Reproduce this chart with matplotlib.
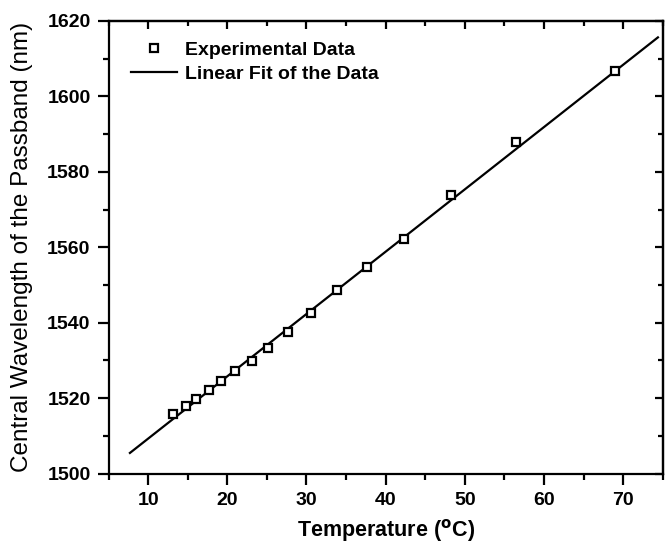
import matplotlib
matplotlib.use("Agg")
import matplotlib.pyplot as plt
from matplotlib.ticker import MultipleLocator

# Measured central wavelength of the passband vs temperature
temperature = [13.2, 14.8, 16.1, 17.7, 19.2, 21.0, 23.1, 25.2, 27.7, 30.6,
               33.9, 37.6, 42.3, 48.3, 56.5, 69.0]
wavelength = [1515.7, 1517.9, 1519.9, 1522.3, 1524.5, 1527.2, 1529.9, 1533.2,
              1537.6, 1542.6, 1548.6, 1554.7, 1562.3, 1573.8, 1587.9, 1606.7]

# Linear fit line end points
fit_x = [7.7, 74.4]
fit_y = [1505.5, 1615.6]

x_ticks = [10, 20, 30, 40, 50, 60, 70]
y_ticks = [1500, 1520, 1540, 1560, 1580, 1600, 1620]

plt.rcParams['font.family'] = ['Liberation Sans', 'DejaVu Sans']

fig = plt.figure(figsize=(6.66, 5.47), dpi=100)
ax = fig.add_axes([0.163, 0.134, 0.832, 0.828])

ax.plot(temperature, wavelength, linestyle='none', marker='s', markersize=5.5,
        markerfacecolor='white', markeredgecolor='black', markeredgewidth=1.6,
        label='Experimental Data', zorder=3)
ax.plot(fit_x, fit_y, color='black', linewidth=1.6, label='Linear Fit of the Data',
        zorder=2)

ax.set_xlim(5, 75)
ax.set_ylim(1500, 1620)
ax.set_xticks(x_ticks)
ax.set_yticks(y_ticks)
ax.xaxis.set_minor_locator(MultipleLocator(5))
ax.yaxis.set_minor_locator(MultipleLocator(10))

for sp in ax.spines.values():
    sp.set_linewidth(1.6)

ax.tick_params(which='both', direction='out', width=1.6, top=False, right=False,
               labelsize=14)
ax.tick_params(which='major', length=8, pad=5)
ax.tick_params(which='minor', length=4.5)
for lab in ax.get_xticklabels() + ax.get_yticklabels():
    lab.set_fontweight('bold')

# inward ticks on the top and right spines
ax_top = ax.secondary_xaxis('top')
ax_top.set_xticks(x_ticks)
ax_top.xaxis.set_minor_locator(MultipleLocator(5))
ax_top.tick_params(which='both', direction='in', width=1.6, labeltop=False)
ax_top.tick_params(which='major', length=6)
ax_top.tick_params(which='minor', length=3.5)
ax_right = ax.secondary_yaxis('right')
ax_right.set_yticks(y_ticks)
ax_right.yaxis.set_minor_locator(MultipleLocator(10))
ax_right.tick_params(which='both', direction='in', width=1.6, labelright=False)
ax_right.tick_params(which='major', length=6)
ax_right.tick_params(which='minor', length=3.5)
ax_top.spines['top'].set_linewidth(1.6)
ax_right.spines['right'].set_linewidth(1.6)

ax.set_xlabel(r'Temperature ($^{\mathbf{o}}$C)', fontsize=15.5, fontweight='bold',
              labelpad=6)
ax.set_ylabel('Central Wavelength of the Passband (nm)', fontsize=17.5, labelpad=10)

leg = ax.legend(loc='upper left', bbox_to_anchor=(0.04, 0.955), frameon=False,
                fontsize=14, handlelength=2.4, handletextpad=0.4, borderpad=0,
                borderaxespad=0, labelspacing=0.35, numpoints=1)
for t in leg.get_texts():
    t.set_fontweight('bold')

fig.savefig('out.png', dpi=100)
